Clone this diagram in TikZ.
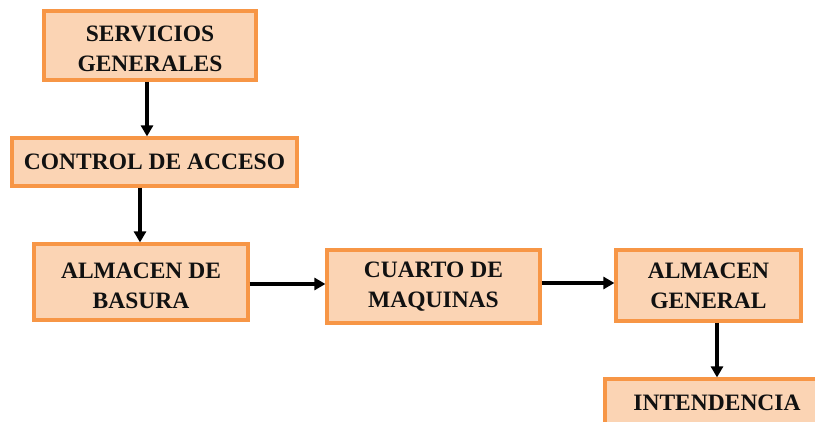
\documentclass[tikz,border=0pt]{standalone}
\usepackage{fontspec}
\setmainfont{Liberation Serif}
\usetikzlibrary{arrows.meta}
\definecolor{boxfill}{HTML}{FBD4B4}
\definecolor{boxline}{HTML}{F79646}
\definecolor{txt}{HTML}{111111}
\tikzset{
  boxtext/.style={align=center, inner sep=0pt, text=txt,
    font=\fontsize{23.5}{30}\selectfont\bfseries},
  box/.style={draw=boxline, fill=boxfill, line width=3.2pt, rectangle, boxtext},
  lowlabel/.style={label={[boxtext, yshift=-3.5pt]center:#1}},
  arr/.style={draw=black, line width=3.4pt, -{Triangle[length=11pt,width=12pt]}}
}
\begin{document}
\begin{tikzpicture}[x=1pt,y=-1pt]
\useasboundingbox (0,0) rectangle (815,422);
\begin{scope}
\clip (0,0) rectangle (815,422);
\node[box, lowlabel={SERVICIOS\\GENERALES}, minimum width=212pt, minimum height=69pt] (sg) at (150,45.5) {};
\node[box, minimum width=285pt, minimum height=48pt] (ca) at (154.5,162) {CONTROL DE ACCESO};
\node[box, lowlabel={ALMACEN DE\\BASURA}, minimum width=214pt, minimum height=76pt] (ab) at (141,282) {};
\node[box, minimum width=213pt, minimum height=73pt] (cm) at (433.5,286.5) {CUARTO DE\\MAQUINAS};
\node[box, minimum width=185pt, minimum height=71pt] (ag) at (708.5,285.5) {ALMACEN\\GENERAL};
\node[box, minimum width=224pt, minimum height=48pt] (in) at (717,403) {INTENDENCIA};
\end{scope}
\coordinate (a1) at (147,0);
\coordinate (a2) at (140,0);
\coordinate (a3) at (0,284);
\coordinate (a4) at (0,283);
\coordinate (a5) at (717,0);
\draw[arr] (sg.south -| a1) -- (ca.north -| a1);
\draw[arr] (ca.south -| a2) -- (ab.north -| a2);
\draw[arr] (ab.east |- a3) -- (cm.west |- a3);
\draw[arr] (cm.east |- a4) -- (ag.west |- a4);
\draw[arr] (ag.south -| a5) -- (in.north -| a5);
\end{tikzpicture}
\end{document}
